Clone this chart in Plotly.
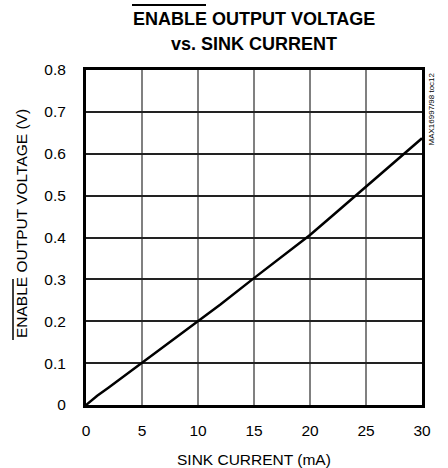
import plotly.graph_objects as go

# Data
sink_current_ma = [0, 0.5, 1, 2, 3, 4, 5, 6, 7, 8, 9, 10, 12, 15, 18, 20, 22, 24, 26, 28, 30]
output_voltage_v = [0, 0.012, 0.022, 0.041, 0.061, 0.081, 0.100, 0.121, 0.141, 0.161, 0.180, 0.199,
                    0.240, 0.303, 0.365, 0.406, 0.452, 0.498, 0.545, 0.592, 0.637]
x_ticks = [0, 5, 10, 15, 20, 25, 30]
y_ticks = [0, 0.1, 0.2, 0.3, 0.4, 0.5, 0.6, 0.7, 0.8]

FONT = "Liberation Sans, Arial, sans-serif"

fig = go.Figure()
fig.add_trace(go.Scatter(x=sink_current_ma, y=output_voltage_v, mode="lines",
                         line=dict(color="black", width=2.5), showlegend=False,
                         hoverinfo="skip"))

W, H = 448, 468
L, R, T, B = 86, 26, 70, 63
pw, ph = W - L - R, H - T - B

def px(x):
    return (x - L) / pw

def py(y):
    return (H - B - y) / ph

fig.update_layout(
    width=W, height=H,
    margin=dict(l=L, r=R, t=T, b=B),
    paper_bgcolor="white", plot_bgcolor="white",
    font=dict(family=FONT, size=15.5, color="black"),
    xaxis=dict(range=[0, 30], tickvals=x_ticks, showgrid=True, gridcolor="#808080", gridwidth=2,
               showline=True, linecolor="black", linewidth=3, mirror=True, zeroline=False,
               ticks="outside", ticklen=9, tickcolor="rgba(0,0,0,0)",
               tickfont=dict(size=15.5)),
    yaxis=dict(range=[0, 0.8], tickvals=y_ticks, showgrid=True, gridcolor="#222222", gridwidth=1.5,
               showline=True, linecolor="black", linewidth=3, mirror=True, zeroline=False,
               ticks="outside", ticklen=14, tickcolor="rgba(0,0,0,0)",
               tickfont=dict(size=15.5)),
    annotations=[
        dict(text="<b>ENABLE OUTPUT VOLTAGE</b>", xref="paper", yref="paper",
             x=0.5, y=py(18.5), xanchor="center", yanchor="middle", showarrow=False,
             font=dict(size=18, family=FONT)),
        dict(text="<b>vs. SINK CURRENT</b>", xref="paper", yref="paper",
             x=0.5, y=py(43.5), xanchor="center", yanchor="middle", showarrow=False,
             font=dict(size=18, family=FONT)),
        dict(text="SINK CURRENT (mA)", xref="paper", yref="paper",
             x=0.5, y=py(459), xanchor="center", yanchor="middle", showarrow=False,
             font=dict(size=15.5, family=FONT)),
        dict(text="ENABLE OUTPUT VOLTAGE (V)", xref="paper", yref="paper",
             x=px(21), y=py(224), xanchor="center", yanchor="middle", textangle=-90, showarrow=False,
             font=dict(size=15.5, family=FONT)),
        dict(text="MAX16997/98 toc12", xref="paper", yref="paper",
             x=px(431), y=1.0, xanchor="center", yanchor="top", textangle=-90, showarrow=False,
             font=dict(size=8, family=FONT)),
    ],
    shapes=[
        # overline on ENABLE (title)
        dict(type="line", xref="paper", yref="paper", x0=px(132), x1=px(206), y0=py(5), y1=py(5),
             line=dict(color="black", width=2)),
        # overline on ENABLE (y-axis title)
        dict(type="line", xref="paper", yref="paper", x0=px(13), x1=px(13), y0=py(279), y1=py(340),
             line=dict(color="black", width=1.5)),
    ],
)

fig.write_html("out.html", config={"displayModeBar": False},
               post_script="document.body.style.margin='0';")
